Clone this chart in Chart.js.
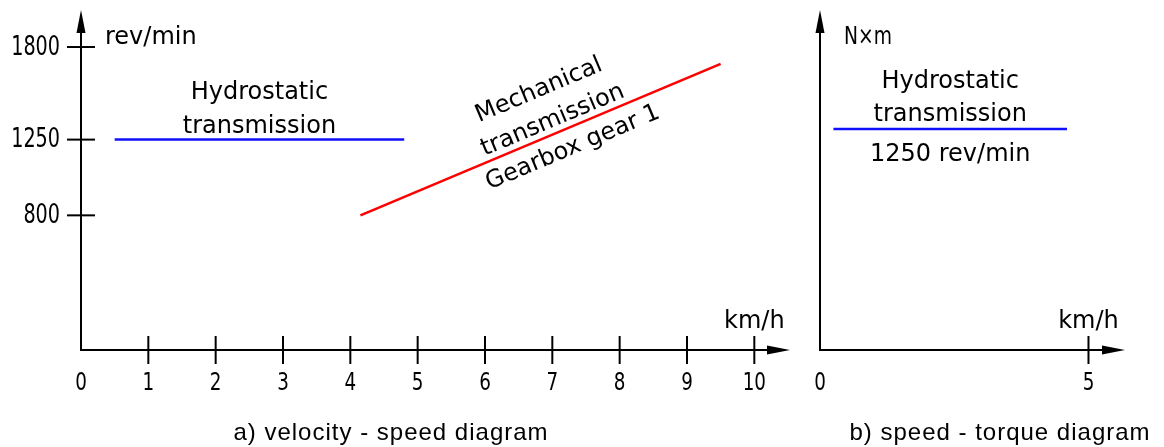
<!DOCTYPE html>
<html>
<head>
<meta charset="utf-8">
<script src="https://cdn.jsdelivr.net/npm/chart.js@4/dist/chart.umd.min.js"></script>
<style>
  body { margin: 0; background: #fff; }
  #wrap { position: relative; width: 1164px; height: 447px; }
  canvas { position: absolute; top: 0; }
  #left { left: 0; }
  #right { left: 800px; }
</style>
</head>
<body>
<div id="wrap">
  <canvas id="left" width="800" height="447"></canvas>
  <canvas id="right" width="364" height="447"></canvas>
</div>
<script>
// a) velocity - speed diagram
const speedTicks = [0, 1, 2, 3, 4, 5, 6, 7, 8, 9, 10];
const revTicks = [800, 1250, 1800];
const hydroSpeed = [0.5, 4.8];
const hydroRev = [1250, 1250];
const mechSpeed = [4.15, 9.5];
const mechRev = [800, 1700];

// b) speed - torque diagram
const torqueSpeedTicks = [0, 5];
const torqueSpeed = [0.25, 4.6];
const torqueValue = [65, 65];

const labelFont = '24px "DejaVu Sans", sans-serif';
const tickFont = '24px "DejaVu Sans Condensed", "DejaVu Sans", sans-serif';
const yTickFont = '26px "DejaVu Sans Condensed", "DejaVu Sans", sans-serif';
const captionFont = '24px "Liberation Sans", Arial, sans-serif';

function pts(xs, ys) {
  return xs.map((x, i) => ({ x: x, y: ys[i] }));
}

// text squeezed horizontally (the drawing font is narrower than DejaVu)
function narrowText(ctx, text, x, y, sx) {
  ctx.save();
  ctx.translate(x, y);
  ctx.scale(sx, 1);
  ctx.fillText(text, 0, 0);
  ctx.restore();
}

// axes with arrows and crossing tick marks, drawn from the chart's own scales
const techAxes = {
  id: 'techAxes',
  afterDraw(chart, args, o) {
    const ctx = chart.ctx;
    const xs = chart.scales.x, ys = chart.scales.y;
    const x0 = xs.getPixelForValue(0), y0 = ys.getPixelForValue(0);
    const top = chart.chartArea.top, right = chart.chartArea.right;
    ctx.save();
    ctx.strokeStyle = '#000';
    ctx.fillStyle = '#000';
    ctx.lineWidth = 2;
    ctx.beginPath();
    ctx.moveTo(x0, top + 18);
    ctx.lineTo(x0, y0);
    ctx.lineTo(right - 18, y0);
    ctx.stroke();
    // arrow heads
    ctx.beginPath();
    ctx.moveTo(x0, top);
    ctx.lineTo(x0 - 4.5, top + 23);
    ctx.lineTo(x0 + 4.5, top + 23);
    ctx.closePath();
    ctx.fill();
    ctx.beginPath();
    ctx.moveTo(right, y0);
    ctx.lineTo(right - 23, y0 - 4.5);
    ctx.lineTo(right - 23, y0 + 4.5);
    ctx.closePath();
    ctx.fill();
    // x ticks
    ctx.font = tickFont;
    ctx.textAlign = 'center';
    ctx.textBaseline = 'alphabetic';
    o.xTicks.forEach(v => {
      const px = xs.getPixelForValue(v);
      if (v !== 0) {
        ctx.beginPath();
        ctx.moveTo(px, y0 - 14);
        ctx.lineTo(px, y0 + 14);
        ctx.stroke();
      }
      narrowText(ctx, String(v), px, y0 + 40, 0.85);
    });
    // y ticks
    ctx.font = yTickFont;
    ctx.textAlign = 'right';
    ctx.textBaseline = 'middle';
    (o.yTicks || []).forEach(v => {
      const py = ys.getPixelForValue(v);
      ctx.beginPath();
      ctx.moveTo(x0 - 14, py);
      ctx.lineTo(x0 + 14, py);
      ctx.stroke();
      narrowText(ctx, String(v), x0 - 21, py + 1, 0.82);
    });
    // unit labels
    ctx.font = labelFont;
    ctx.textBaseline = 'alphabetic';
    ctx.textAlign = 'left';
    narrowText(ctx, o.yUnit, x0 + 24, 44, o.yUnitScale || 1);
    ctx.textAlign = 'center';
    const last = o.xTicks[o.xTicks.length - 1];
    ctx.fillText(o.xUnit, xs.getPixelForValue(last), y0 - 22);
    // caption
    ctx.font = captionFont;
    if ('letterSpacing' in ctx) ctx.letterSpacing = '1px';
    ctx.fillText(o.caption, o.captionX, 440);
    ctx.restore();
  }
};

function baseOptions(padding, xMax, yMax, axesOpts, notes) {
  return {
    responsive: false,
    animation: false,
    events: [],
    layout: { padding: padding },
    scales: {
      x: { type: 'linear', min: 0, max: xMax, display: false },
      y: { type: 'linear', min: 0, max: yMax, display: false }
    },
    plugins: {
      legend: { display: false },
      tooltip: { enabled: false },
      techAxes: axesOpts,
      notes: notes
    }
  };
}

// text notes next to the lines
const notesPlugin = {
  id: 'notes',
  afterDraw(chart, args, o) {
    const ctx = chart.ctx;
    ctx.save();
    ctx.fillStyle = '#000';
    ctx.font = labelFont;
    ctx.textAlign = 'center';
    (o.flat || []).forEach(n => {
      const meta = chart.getDatasetMeta(n.dataset);
      const a = meta.data[0], b = meta.data[meta.data.length - 1];
      const cx = (a.x + b.x) / 2;
      ctx.textBaseline = 'alphabetic';
      ctx.fillText(n.text, cx, a.y + n.dy);
    });
    (o.slanted || []).forEach(n => {
      const meta = chart.getDatasetMeta(n.dataset);
      const a = meta.data[0], b = meta.data[meta.data.length - 1];
      const ang = Math.atan2(b.y - a.y, b.x - a.x);
      const ux = Math.cos(ang), uy = Math.sin(ang);
      const nx = uy, ny = -ux;
      const px = a.x + ux * n.along + nx * n.off;
      const py = a.y + uy * n.along + ny * n.off;
      ctx.save();
      ctx.translate(px, py);
      ctx.rotate(ang);
      ctx.textBaseline = 'middle';
      ctx.fillText(n.text, 0, 0);
      ctx.restore();
    });
    ctx.restore();
  }
};

new Chart(document.getElementById('left'), {
  type: 'scatter',
  data: {
    datasets: [
      { data: pts(hydroSpeed, hydroRev), showLine: true, borderColor: '#1010ff', borderWidth: 2.5, pointRadius: 0 },
      { data: pts(mechSpeed, mechRev), showLine: true, borderColor: '#ff0000', borderWidth: 2.5, pointRadius: 0 }
    ]
  },
  options: baseOptions({ left: 81, right: 10, top: 10, bottom: 97 }, 10.53, 2020,
    { xTicks: speedTicks, yTicks: revTicks, xUnit: 'km/h', yUnit: 'rev/min',
      caption: 'a) velocity - speed diagram', captionX: 391 },
    { flat: [
        { dataset: 0, text: 'Hydrostatic', dy: -41 },
        { dataset: 0, text: 'transmission', dy: -7 }
      ],
      slanted: [
        { dataset: 1, text: 'Mechanical', along: 213, off: 46 },
        { dataset: 1, text: 'transmission', along: 214, off: 13 },
        { dataset: 1, text: 'Gearbox gear 1', along: 222, off: -20 }
      ] }),
  plugins: [techAxes, notesPlugin]
});

new Chart(document.getElementById('right'), {
  type: 'scatter',
  data: {
    datasets: [
      { data: pts(torqueSpeed, torqueValue), showLine: true, borderColor: '#1010ff', borderWidth: 2.5, pointRadius: 0 }
    ]
  },
  options: baseOptions({ left: 20, right: 39, top: 10, bottom: 97 }, 5.68, 100,
    { xTicks: torqueSpeedTicks, yTicks: [], xUnit: 'km/h', yUnit: 'N×m', yUnitScale: 0.78,
      caption: 'b) speed - torque diagram', captionX: 200 },
    { flat: [
        { dataset: 0, text: 'Hydrostatic', dy: -41 },
        { dataset: 0, text: 'transmission', dy: -8 },
        { dataset: 0, text: '1250 rev/min', dy: 32 }
      ] }),
  plugins: [techAxes, notesPlugin]
});
</script>
</body>
</html>
